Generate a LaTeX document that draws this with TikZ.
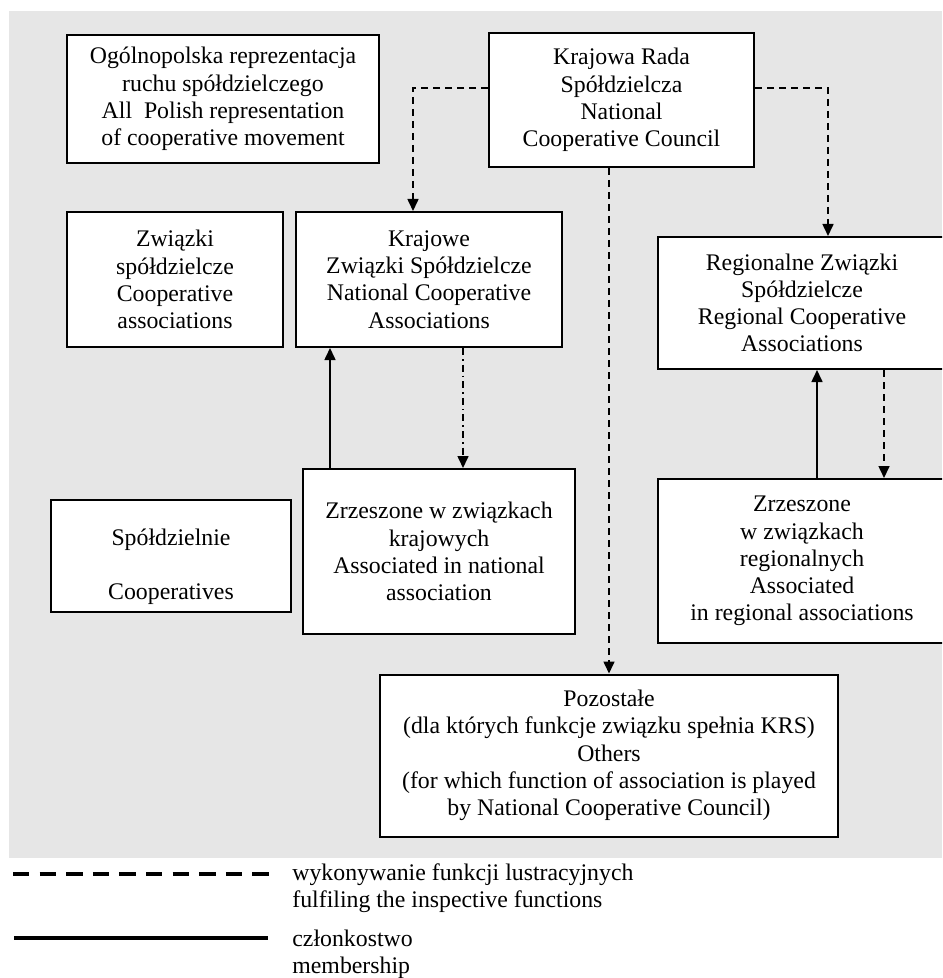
\documentclass[tikz,border=0pt]{standalone}
\usepackage{fontspec}
\setmainfont{Liberation Serif}
\usetikzlibrary{arrows.meta}
\definecolor{panel}{HTML}{E6E6E6}
\begin{document}
\begin{tikzpicture}[x=0.5pt,y=-0.5pt,
  txt/.style={font=\fontsize{11.9pt}{13.6pt}\selectfont},
  box/.style={txt, draw, fill=white, line width=1pt, align=center, inner sep=0pt},
  conn/.style={line width=0.8pt, -{Triangle[length=6pt,width=5.5pt]}},
  insp/.style={conn, dash pattern=on 3.5pt off 2.5pt},
  inspdot/.style={conn, dash pattern=on 3.5pt off 2pt on 0.8pt off 2pt},
  memb/.style={conn},
  legtext/.style={txt, align=left, anchor=west, inner sep=0pt},
  legdash/.style={line width=2pt, dash pattern=on 8.2pt off 5.1pt},
  legsolid/.style={line width=2pt}
]
\useasboundingbox (0,0) rectangle (942,978);
\clip (0,0) rectangle (942,978);
\fill[panel] (9,11) rectangle (942,858);

% boxes
\node[box, minimum width=156pt, minimum height=64pt] (ogol) at (223,99)
  {Ogólnopolska reprezentacja\\ruchu spółdzielczego\\All\ \ Polish representation\\of cooperative movement};
\node[box, minimum width=132.5pt, minimum height=67pt] (krs) at (621.5,100)
  {Krajowa Rada\\Spółdzielcza\\National\\Cooperative Council};
\node[box, minimum width=108pt, minimum height=67.5pt] (zwiazki) at (175,279.5)
  {Związki\\spółdzielcze\\Cooperative\\associations};
\node[box, minimum width=133pt, minimum height=67.5pt] (krajowe) at (429,279.5)
  {Krajowe\\Związki Spółdzielcze\\National Cooperative\\Associations};
\node[box, minimum width=144pt, minimum height=66pt] (regionalne) at (802,303)
  {Regionalne Związki\\Spółdzielcze\\Regional Cooperative\\Associations};
\node[box, minimum width=120pt, minimum height=56pt] (spoldz) at (171,556) {};
\node[txt, align=center, inner sep=0pt] (spoldztxt) at (171,567)
  {Spółdzielnie\\[13.6pt]Cooperatives};
\node[box, minimum width=136pt, minimum height=82.5pt] (zrzkraj) at (439,551.5)
  {Zrzeszone w związkach\\krajowych\\Associated in national\\association};
\node[box, minimum width=144pt, minimum height=82pt] (zrzreg) at (802,561)
  {Zrzeszone\\w związkach\\regionalnych\\Associated\\in regional associations};
\node[box, minimum width=229pt, minimum height=81pt] (pozost) at (609,755.5)
  {Pozostałe\\(dla których funkcje związku spełnia KRS)\\Others\\(for which function of association is played\\by National Cooperative Council)};

% inspection links from the council
\draw[insp] ([yshift=6pt]krs.west) -| ([xshift=-8pt]krajowe.north);
\draw[insp] ([yshift=6pt]krs.east) -| ([xshift=13pt]regionalne.north);
\draw[insp] (krs.south -| pozost.north) -- (pozost.north);

% national associations
\coordinate (m1) at ([xshift=-54.5pt]zrzkraj.north);
\coordinate (d1) at ([xshift=12pt]zrzkraj.north);
\draw[memb] (m1) -- (m1 |- krajowe.south);
\draw[inspdot] (d1 |- krajowe.south) -- (d1);

% regional associations
\coordinate (m2) at ([xshift=7.5pt]zrzreg.north);
\coordinate (d2) at ([xshift=41pt]zrzreg.north);
\draw[memb] (m2) -- (m2 |- regionalne.south);
\draw[insp] (d2 |- regionalne.south) -- (d2);

% legend
\coordinate (la) at (13,874);
\coordinate (lb) at (270,874);
\coordinate (lc) at (14,938);
\coordinate (ld) at (268,938);
\draw[legdash] (la) -- (lb);
\draw[legsolid] (lc) -- (ld);
\node[legtext] (leg1) at (292,888.5) {wykonywanie funkcji lustracyjnych\\fulfiling the inspective functions};
\node[legtext] (leg2) at (292,954.5) {członkostwo\\membership};
\end{tikzpicture}
\end{document}
